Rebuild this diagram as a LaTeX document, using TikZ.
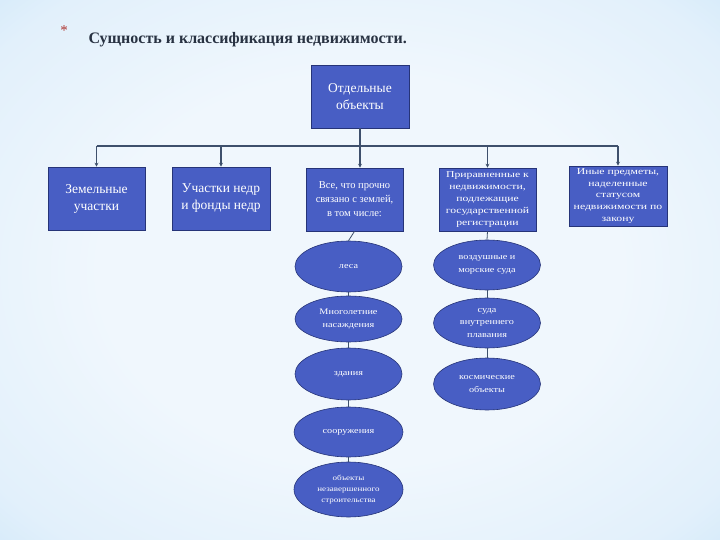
\documentclass[tikz,border=0pt]{standalone}
\usepackage{fontspec}
\setmainfont{Liberation Serif}
\newfontfamily\wideserif[FakeStretch=1.2]{Liberation Serif}
\newfontfamily\widerserif[FakeStretch=1.3]{Liberation Serif}
\newfontfamily\titlefont{Liberation Serif}
\usetikzlibrary{shapes.geometric,arrows.meta}
\definecolor{bgA}{RGB}{240,247,253}
\definecolor{bgB}{RGB}{226,240,251}
\definecolor{bgC}{RGB}{190,224,247}
\definecolor{bgD}{RGB}{160,204,240}
\definecolor{boxfill}{RGB}{72,94,196}
\definecolor{boxline}{RGB}{38,52,120}
\definecolor{linec}{RGB}{62,80,108}
\definecolor{titlec}{RGB}{40,50,66}
\definecolor{astc}{RGB}{175,55,50}
\pgfdeclareradialshading{bgshade}{\pgfpoint{0bp}{0bp}}{color(0bp)=(bgA); color(18bp)=(bgA); color(32bp)=(bgB); color(45bp)=(bgC); color(56bp)=(bgD); color(75bp)=(bgD)}
\tikzset{
  rbox/.style={rectangle, draw=boxline, fill=boxfill, text=white, align=center, inner sep=1pt, line width=0.6pt},
  oval/.style={ellipse, draw=boxline, fill=boxfill, text=white, align=center, inner sep=0pt, line width=0.6pt,
    font=\wideserif\fontsize{8.5}{12.5}\selectfont},
  bigtxt/.style={font=\fontsize{13.5}{17}\selectfont},
  smalltxt/.style={font=\widerserif\fontsize{9}{11.8}\selectfont},
  conn/.style={draw=linec, line width=1.2pt},
  thinconn/.style={draw=linec, line width=0.8pt},
  arr/.style={conn, -{Stealth[length=4pt,width=4pt]}}
}
\begin{document}
\begin{tikzpicture}[x=1pt,y=-1pt]
\shade[shading=bgshade] (0,0) rectangle (720,540);
\useasboundingbox (0,0) rectangle (720,540);

\node[text=astc, font=\fontsize{15}{15}\selectfont] (ast) at (64,31) {*};
\node[anchor=west, text=titlec, font=\titlefont\bfseries\fontsize{16}{18}\selectfont] (title) at (85,40) {Сущность и классификация недвижимости.};

\node[rbox, bigtxt, minimum width=98pt, minimum height=63pt] (top) at (360,96.5) {Отдельные\\объекты};

\node[rbox, bigtxt, minimum width=97pt, minimum height=63pt] (zem) at (96.5,198.5) {Земельные\\участки};
\node[rbox, bigtxt, minimum width=98pt, minimum height=63pt] (nedr) at (221,198.5) {Участки недр\\и фонды недр};
\node[rbox, font=\fontsize{10.5}{14}\selectfont, minimum width=97pt, minimum height=63pt] (vse) at (354.5,199.5) {Все, что прочно\\связано с землей,\\в том числе:};
\node[rbox, smalltxt, minimum width=97pt, minimum height=63pt] (prir) at (487.5,199.5) {Приравненные к\\недвижимости,\\подлежащие\\государственной\\регистрации};
\node[rbox, smalltxt, minimum width=98pt, minimum height=60pt] (inye) at (618,196) {Иные предметы,\\наделенные\\статусом\\недвижимости по\\закону};

\node[oval, minimum width=107pt, minimum height=51pt] (lesa) at (348.5,266.5) {леса};
\node[oval, minimum width=107pt, minimum height=46pt] (mnog) at (348.5,319) {Многолетние\\насаждения};
\node[oval, minimum width=107pt, minimum height=52pt] (zdan) at (348.5,374) {здания};
\node[oval, minimum width=109pt, minimum height=50pt] (soor) at (348.5,432) {сооружения};
\node[oval, minimum width=109pt, minimum height=55pt, font=\wideserif\fontsize{7.5}{11}\selectfont] (nez) at (348.5,489.5) {объекты\\незавершенного\\строительства};

\node[oval, minimum width=107pt, minimum height=50pt] (vozd) at (487,265) {воздушные и\\морские суда};
\node[oval, minimum width=107pt, minimum height=50pt] (suda) at (487,323) {суда\\внутреннего\\плавания};
\node[oval, minimum width=107pt, minimum height=52pt] (kosm) at (487,384) {космические\\объекты};

\coordinate (bus) at (360,146);
\draw[conn] (top.south) -- (bus);
\draw[conn] (bus -| zem.north) -- (bus -| inye.north);
\draw[arr] (bus -| zem.north) -- (zem.north);
\draw[arr] (bus -| nedr.north) -- (nedr.north);
\draw[arr] (bus) -- (bus |- vse.north);
\draw[arr] (bus -| prir.north) -- (prir.north);
\draw[arr] (bus -| inye.north) -- (inye.north);

\draw[thinconn] (vse.south) -- (lesa.north);
\draw[thinconn] (lesa.south) -- (mnog.north);
\draw[thinconn] (mnog.south) -- (zdan.north);
\draw[thinconn] (zdan.south) -- (soor.north);
\draw[thinconn] (soor.south) -- (nez.north);
\draw[thinconn] (prir.south) -- (vozd.north);
\draw[thinconn] (vozd.south) -- (suda.north);
\draw[thinconn] (suda.south) -- (kosm.north);
\end{tikzpicture}
\end{document}
